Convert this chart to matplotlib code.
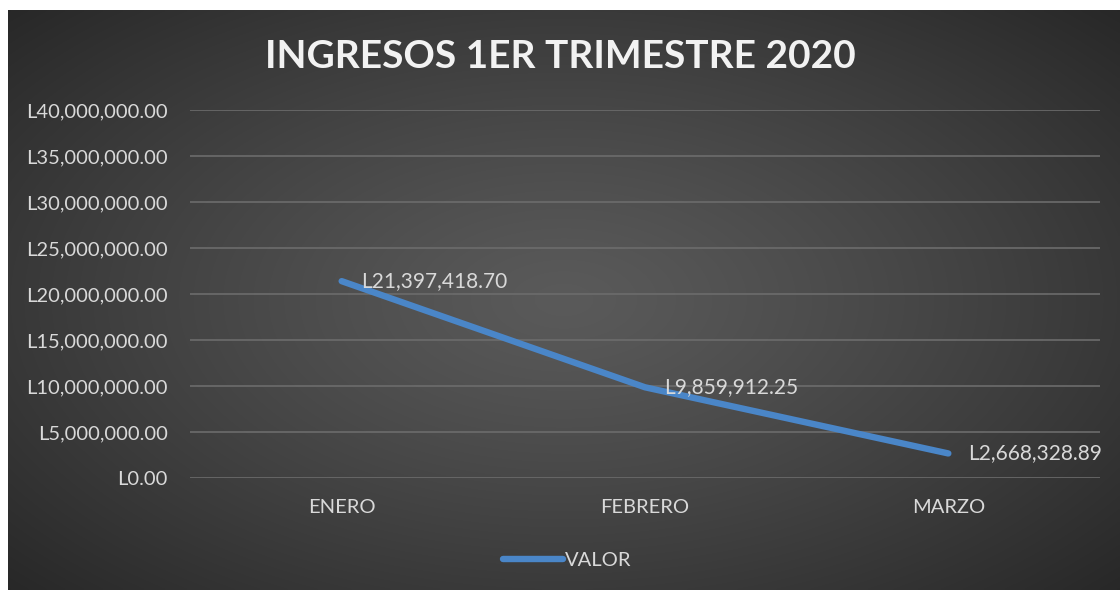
import numpy as np
import matplotlib
matplotlib.use("Agg")
import matplotlib.pyplot as plt
from matplotlib.ticker import FuncFormatter

# data
meses = ["ENERO", "FEBRERO", "MARZO"]
valores = [21397418.70, 9859912.25, 2668328.89]
y_ticks = [0, 5e6, 10e6, 15e6, 20e6, 25e6, 30e6, 35e6, 40e6]
titulo = "INGRESOS 1ER TRIMESTRE 2020"
serie = "VALOR"

W, H, DPI = 1120, 590, 100
FONT = ["Lato", "DejaVu Sans"]
TXT = "#d9d9d9"
LINE = "#4a86c8"

plt.rcParams["font.family"] = FONT

fig = plt.figure(figsize=(W / DPI, H / DPI), dpi=DPI, facecolor="white")

# dark radial background of the chart area (px 8..1120, 10..590)
bg = fig.add_axes([8 / W, 0, (W - 8) / W, (H - 10) / H])
bg.set_axis_off()
gx = np.linspace(-1, 1, 400)
gy = np.linspace(-1, 1, 220)
X, Y = np.meshgrid(gx, gy)
r = np.clip(np.sqrt((X * 0.95) ** 2 + (Y * 0.9) ** 2), 0, 1.4)
shade = 0x5a - (0x5a - 0x26) * (r / 1.35) ** 1.2
shade = np.clip(shade, 0x24, 0x5a) / 255.0
bg.imshow(np.dstack([shade, shade, shade]), aspect="auto",
          extent=[0, 1, 0, 1], interpolation="bilinear")
bg.set_xlim(0, 1)
bg.set_ylim(0, 1)

# plot area
left, right = 190, 1100
y0, ytop = 478, 110
ax = fig.add_axes([left / W, (H - y0) / H, (right - left) / W, (y0 - ytop) / H])
ax.patch.set_alpha(0)
x = np.arange(len(meses))
ax.plot(x, valores, color=LINE, lw=4.6, solid_capstyle="round",
        solid_joinstyle="round", label=serie, zorder=3)
for xi, v in zip(x, valores):
    ax.annotate(f"L{v:,.2f}", (xi, v), xytext=(14, 0), textcoords="offset points",
                ha="left", va="center", color=TXT, fontsize=15, zorder=4)

ax.set_xlim(-0.5, 2.5)
ax.set_ylim(0, 40e6)
ax.set_yticks(y_ticks)
ax.yaxis.set_major_formatter(FuncFormatter(lambda v, p: f"L{v:,.2f}"))
ax.set_xticks(x)
ax.set_xticklabels(meses)
ax.tick_params(axis="both", length=0, colors=TXT, labelsize=14.5)
ax.tick_params(axis="y", pad=16)
ax.tick_params(axis="x", pad=15)
ax.grid(axis="y", color="#6c6c6c", lw=1.2)
ax.set_axisbelow(True)
for s in ax.spines.values():
    s.set_visible(False)

title = fig.text(560 / W, 1 - 56 / H, titulo, ha="center", va="center", color="#f2f2f2",
                 fontsize=28, fontweight="bold")

leg = fig.legend(loc="center", bbox_to_anchor=(567 / W, 1 - 560 / H), frameon=False,
                 fontsize=14.5, handlelength=3.0, handletextpad=0.1, labelcolor=TXT)

fig.savefig("out.png", dpi=DPI, facecolor="white")
